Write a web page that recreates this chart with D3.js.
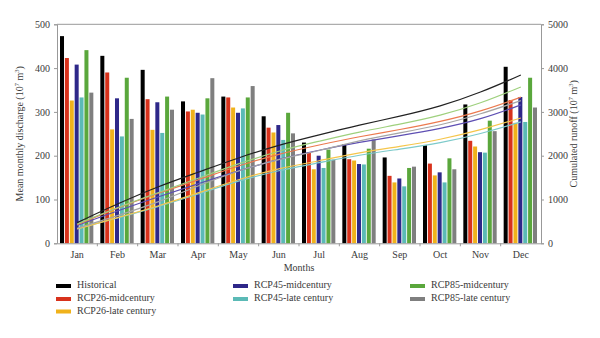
<!DOCTYPE html>
<html>
<head>
<meta charset="utf-8">
<script src="https://cdn.jsdelivr.net/npm/d3@7"></script>
<style>
  body { margin: 0; background: #fff; }
  text { font-family: "Liberation Serif", "DejaVu Serif", serif; fill: #3a3a3a; }
</style>
</head>
<body>
<div id="chart"></div>
<script>
var months = ['Jan','Feb','Mar','Apr','May','Jun','Jul','Aug','Sep','Oct','Nov','Dec'];
var seriesNames = ['Historical','RCP26-midcentury','RCP26-late century','RCP45-midcentury','RCP45-late century','RCP85-midcentury','RCP85-late century'];

var historical = [473,428,396,324,335,290,230,226,196,224,317,403];
var rcp26Mid  = [423,390,329,301,333,264,207,192,154,182,234,327];
var rcp26Late = [326,260,259,305,310,253,169,189,139,155,221,275];
var rcp45Mid  = [408,331,322,298,298,270,200,181,148,162,208,334];
var rcp45Late = [333,244,252,294,308,236,172,180,130,139,207,277];
var rcp85Mid  = [441,378,335,331,333,298,214,216,172,194,280,378];
var rcp85Late = [344,284,305,377,359,251,191,237,175,169,256,310];

var leftTicks = [0,100,200,300,400,500];
var rightTicks = [0,1000,2000,3000,4000,5000];

var barColors  = ['#000000','#d8321c','#f0b21b','#2e2889','#5bbab6','#5aa73c','#7f7f7f'];
var lineColors = ['#222222','#ec7a4f','#f5c64c','#5e4fb3','#7dcaca','#9ed07d','#a5a5a5'];

var allSeries = [historical, rcp26Mid, rcp26Late, rcp45Mid, rcp45Late, rcp85Mid, rcp85Late];

var width = 600, height = 338;
var margin = {left:57, right:59, top:24, bottom:95};

var svg = d3.select("#chart").append("svg")
    .attr("width", width)
    .attr("height", height);

var x0 = d3.scaleBand()
    .domain(months)
    .range([margin.left, width - margin.right]);

var x1 = d3.scaleBand()
    .domain(d3.range(7))
    .range([3, x0.bandwidth() - 4])
    .paddingInner(0.18);

var y = d3.scaleLinear()
    .domain([0, 500])
    .range([height - margin.bottom + 0.3, margin.top + 0.3]);

var y2 = d3.scaleLinear()
    .domain([0, 5000])
    .range([height - margin.bottom + 0.3, margin.top + 0.3]);

// top frame line
svg.append("line")
    .attr("x1", margin.left).attr("x2", width - margin.right)
    .attr("y1", y(500)).attr("y2", y(500))
    .attr("stroke", "#999").attr("stroke-width", 1);

// bars
var groups = svg.selectAll("g.month")
    .data(months)
    .enter().append("g")
      .attr("class", "month")
      .attr("transform", function(d){ return "translate(" + x0(d) + ",0)"; });

groups.selectAll("rect")
    .data(function(d, i){ return allSeries.map(function(s, k){ return {k:k, v:s[i]}; }); })
    .enter().append("rect")
      .attr("x", function(d){ return x1(d.k); })
      .attr("width", x1.bandwidth())
      .attr("y", function(d){ return y(d.v); })
      .attr("height", function(d){ return y(0) - y(d.v); })
      .attr("fill", function(d){ return barColors[d.k]; });

// cumulated runoff lines
var line = d3.line()
    .x(function(d, i){ return x0(months[i]) + x0.bandwidth() / 2; })
    .y(function(d){ return y2(d); })
    .curve(d3.curveBasis);

var drawOrder = [4, 2, 3, 6, 1, 5, 0];
drawOrder.forEach(function(k){
  svg.append("path")
      .datum(Array.from(d3.cumsum(allSeries[k])))
      .attr("fill", "none")
      .attr("stroke", lineColors[k])
      .attr("stroke-width", 1.2)
      .attr("d", line);
});

// axes
var xAxis = d3.axisBottom(x0).tickSize(0).tickPadding(8);
var gx = svg.append("g")
    .attr("transform", "translate(0," + y(0) + ")")
    .call(xAxis);
gx.select(".domain").attr("stroke", "#999");
gx.selectAll("text").attr("font-size", 10);
gx.selectAll("line.sep")
    .data(months.slice(1))
    .enter().append("line")
      .attr("class", "sep")
      .attr("x1", function(d){ return x0(d); })
      .attr("x2", function(d){ return x0(d); })
      .attr("y1", 0).attr("y2", 3)
      .attr("stroke", "#999");

var gy = svg.append("g")
    .attr("transform", "translate(" + margin.left + ",0)")
    .call(d3.axisLeft(y).tickValues(leftTicks).tickSize(3).tickPadding(4));
gy.select(".domain").attr("stroke", "#999");
gy.selectAll(".tick line").attr("stroke", "#999");
gy.selectAll("text").attr("font-size", 10);

var gy2 = svg.append("g")
    .attr("transform", "translate(" + (width - margin.right) + ",0)")
    .call(d3.axisRight(y2).tickValues(rightTicks).tickFormat(d3.format("d")).tickSize(3).tickPadding(4));
gy2.select(".domain").attr("stroke", "#999");
gy2.selectAll(".tick line").attr("stroke", "#999");
gy2.selectAll("text").attr("font-size", 10);

// axis titles
var leftTitle = svg.append("text")
    .attr("transform", "translate(23," + ((y(0) + y(500)) / 2) + ") rotate(-90)")
    .attr("text-anchor", "middle")
    .attr("font-size", 10);
leftTitle.append("tspan").text("Mean monthly discharge (10");
leftTitle.append("tspan").attr("dy", -4).attr("font-size", 6.5).text("7");
leftTitle.append("tspan").attr("dy", 4).text(" m");
leftTitle.append("tspan").attr("dy", -4).attr("font-size", 6.5).text("3");
leftTitle.append("tspan").attr("dy", 4).text(")");

var rightTitle = svg.append("text")
    .attr("transform", "translate(577," + ((y(0) + y(500)) / 2) + ") rotate(-90)")
    .attr("text-anchor", "middle")
    .attr("font-size", 10);
rightTitle.append("tspan").text("Cumulated runoff (10");
rightTitle.append("tspan").attr("dy", -4).attr("font-size", 6.5).text("7");
rightTitle.append("tspan").attr("dy", 4).text(" m");
rightTitle.append("tspan").attr("dy", -4).attr("font-size", 6.5).text("3");
rightTitle.append("tspan").attr("dy", 4).text(")");

svg.append("text")
    .attr("x", (margin.left + width - margin.right) / 2)
    .attr("y", 271)
    .attr("text-anchor", "middle")
    .attr("font-size", 10)
    .text("Months");

// legend
var legendPos = [[56,286],[56,299],[56,311.5],[233,286],[233,299],[410,286],[410,299]];
var legend = svg.selectAll("g.legend")
    .data(seriesNames)
    .enter().append("g")
      .attr("class", "legend")
      .attr("transform", function(d, i){ return "translate(" + legendPos[i][0] + "," + legendPos[i][1] + ")"; });

legend.append("rect")
    .attr("x", 0).attr("y", -2)
    .attr("width", 15).attr("height", 4)
    .attr("fill", function(d, i){ return barColors[i]; });

legend.append("text")
    .attr("x", 21)
    .attr("y", 0)
    .attr("dominant-baseline", "middle")
    .attr("font-size", 10)
    .text(function(d){ return d; });
</script>
</body>
</html>
